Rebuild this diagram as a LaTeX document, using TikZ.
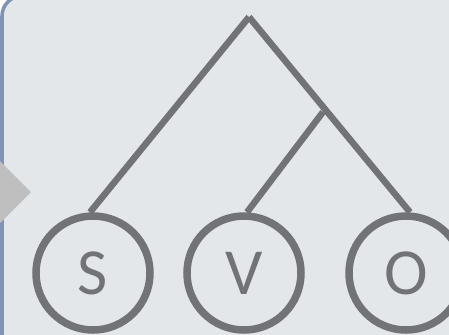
\documentclass[tikz,border=0pt]{standalone}
\usepackage{fontspec}
\setmainfont{Carlito}
\definecolor{bgc}{HTML}{E4E7EA}
\definecolor{linec}{HTML}{727377}
\definecolor{triac}{HTML}{BFBFBF}
\definecolor{borderc}{HTML}{7F93B5}
\tikzset{
  leaf/.style={circle, draw=linec, line width=7.5bp, fill=bgc, minimum size=114bp, inner sep=0pt, text=linec, font=\fontsize{66}{66}\selectfont},
  branch/.style={draw=linec, line width=6.5bp, line cap=butt},
}
\newcommand{\lowered}[1]{\raisebox{-5bp}{#1}}
\begin{document}
\begin{tikzpicture}[x=1bp, y=-1bp]
\useasboundingbox (0,0) rectangle (449,334);
\fill[white] (0,0) rectangle (449,334);
\draw[borderc, line width=3.5bp, fill=bgc, rounded corners=20bp] (2,-4) rectangle (480,360);
\fill[triac] (-6,155) -- (31,192) -- (-6,229) -- cycle;
\coordinate (apex) at (249,17);
\coordinate (junc) at (323,112);
\node[leaf] (s) at (93,273) {\lowered{S}};
\node[leaf] (v) at (244,273) {\lowered{V}};
\node[leaf] (o) at (406,273) {\lowered{O}};
\draw[branch] (apex) -- ([xshift=-3bp]s.north);
\draw[branch] (apex) -- ([xshift=4bp]o.north);
\draw[branch] (junc) -- ([xshift=3bp]v.north);
\end{tikzpicture}
\end{document}
